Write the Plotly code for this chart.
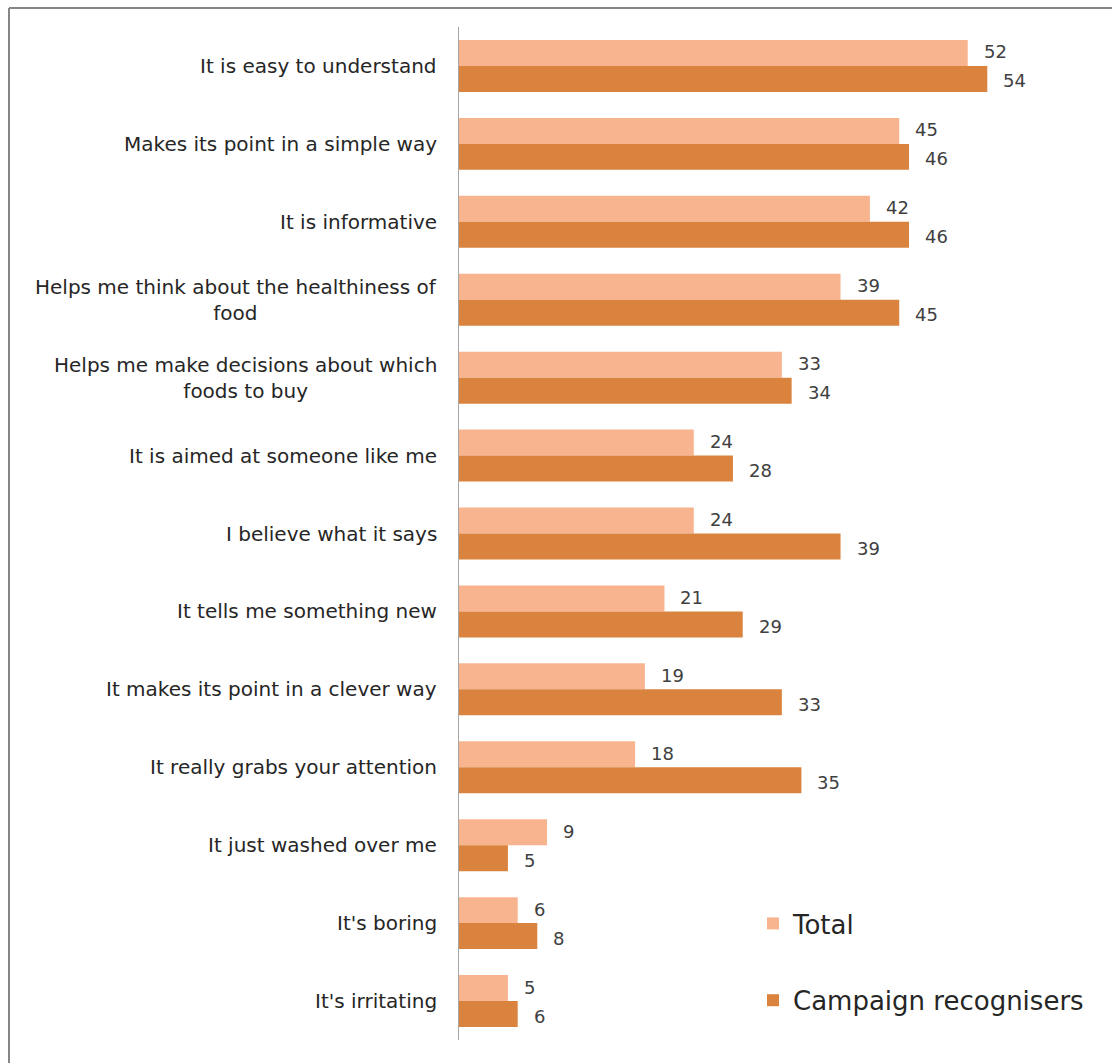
import plotly.graph_objects as go

# Statements about the campaign and % agreeing
statements = [
    "It is easy to understand",
    "Makes its point in a simple way",
    "It is informative",
    "Helps me think about the healthiness of<br>food",
    "Helps me make decisions about which<br>foods to buy",
    "It is aimed at someone like me",
    "I believe what it says",
    "It tells me something new",
    "It makes its point in a clever way",
    "It really grabs your attention",
    "It just washed over me",
    "It's boring",
    "It's irritating",
]
total = [52, 45, 42, 39, 33, 24, 24, 21, 19, 18, 9, 6, 5]
recognisers = [54, 46, 46, 45, 34, 28, 39, 29, 33, 35, 5, 8, 6]

LIGHT = "#F8B48F"
DARK = "#DA833E"
FONT = "DejaVu Sans"

W, H = 1112, 1063
ML, MR, MT, MB = 459, 66, 27, 23
XMAX = 60
plot_w = W - ML - MR
plot_h = H - MT - MB

fig = go.Figure()
fig.add_trace(go.Bar(
    name="Total", y=statements, x=total, orientation="h",
    marker=dict(color=LIGHT, line=dict(width=0)), legendgroup="a",
))
fig.add_trace(go.Bar(
    name="Campaign recognisers", y=statements, x=recognisers, orientation="h",
    marker=dict(color=DARK, line=dict(width=0)), legendgroup="b",
))

annotations = []
# category labels, each line centred under the one above
for i, s in enumerate(statements):
    annotations.append(dict(
        x=0, y=i, xref="paper", yref="y", text=s, showarrow=False,
        xanchor="right", yanchor="middle", align="center", xshift=-20,
        font=dict(family=FONT, size=20, color="#262626"),
    ))
# value labels just past each bar end
for i, (t, r) in enumerate(zip(total, recognisers)):
    for val, off, ys in ((t, -1 / 6, 1), (r, 1 / 6, -2)):
        annotations.append(dict(
            x=val, y=i + off, xref="x", yref="y", text=str(val),
            showarrow=False, xanchor="left", yanchor="middle",
            xshift=14, yshift=ys,
            font=dict(family=FONT, size=18, color="#404040"),
        ))

# frame line along the top and left edge
px = lambda v: (v - ML) / plot_w
py = lambda v: 1 - (v - MT) / plot_h
fig.add_shape(type="line", xref="paper", yref="paper",
              x0=px(9), x1=px(W + 5), y0=py(8), y1=py(8),
              line=dict(color="#868686", width=2))
fig.add_shape(type="line", xref="paper", yref="paper",
              x0=px(9), x1=px(9), y0=py(8), y1=py(H + 5),
              line=dict(color="#868686", width=2))

fig.update_layout(
    width=W, height=H,
    margin=dict(l=ML, r=MR, t=MT, b=MB),
    paper_bgcolor="white", plot_bgcolor="white",
    barmode="group", bargap=1 / 3, bargroupgap=0,
    font=dict(family=FONT, color="#262626"),
    annotations=annotations,
    legend=dict(
        x=px(753), y=py(900), xanchor="left", yanchor="top",
        font=dict(family=FONT, size=26, color="#262626"),
        tracegroupgap=40, itemwidth=30, bgcolor="rgba(0,0,0,0)",
    ),
    showlegend=True,
)
fig.update_xaxes(range=[0, XMAX], visible=False, showgrid=False, zeroline=False)
fig.update_yaxes(
    type="category", autorange="reversed",
    showline=True, linecolor="#A6A6A6", linewidth=1,
    ticks="", showgrid=False, showticklabels=False,
)

fig.write_html("out.html")
